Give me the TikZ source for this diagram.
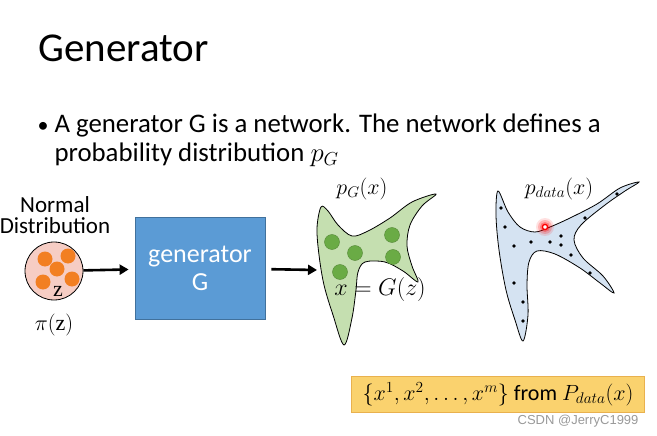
\RequirePackage{fix-cm}
\documentclass[tikz,border=0pt]{standalone}
\usepackage{fontspec}
\setmainfont{Carlito}
\newfontfamily\markfont{Liberation Sans}
\newfontfamily\zfont{Liberation Serif}
\usetikzlibrary{arrows.meta}
\definecolor{genblue}{HTML}{5B9BD5}
\definecolor{genedge}{HTML}{41719C}
\definecolor{pgfill}{HTML}{C5DFB0}
\definecolor{pgdot}{HTML}{6AAB45}
\definecolor{pdfill}{HTML}{D5E3F2}
\definecolor{zfill}{HTML}{F6CDC4}
\definecolor{zdot}{HTML}{F27F22}
\definecolor{boxfill}{HTML}{FAD26E}
\definecolor{boxedge}{HTML}{E9B14E}
\begin{document}
\begin{tikzpicture}[x=1pt,y=-1pt,
    flow/.style={line width=2.6pt,-{Triangle[length=9pt,width=10pt]}},
    zball/.style={circle,fill=zdot,inner sep=0pt,minimum size=15pt},
    gball/.style={circle,fill=pgdot,draw=pgdot!80!black,inner sep=0pt,minimum size=15pt},
    sample/.style={circle,fill=black,inner sep=0pt,minimum size=3.6pt},
    mathlab/.style={font=\fontsize{22}{22}\selectfont}]
    \useasboundingbox (0,0) rectangle (657,436);
    %% Heading and bullet
    \node[anchor=base west,font=\fontsize{41}{41}\selectfont] (title) at (35,62) {Generator};
    \node[anchor=base west,font=\fontsize{22}{28}\selectfont] (bul) at (34,132) {\textbullet};
    \node[anchor=base west,font=\fontsize{26.8}{28}\selectfont] (line1) at (51,133)
        {A generator G is a network. The network defines a};
    \node[anchor=base west,font=\fontsize{26.8}{28}\selectfont] (line2) at (51,161)
        {probability distribution $p_G$};
    %% Normal distribution
    \node[align=center,font=\fontsize{23}{21}\selectfont] (ndlab) at (55,215) {Normal\\Distribution};
    \node[circle,draw,thick,fill=zfill,minimum size=58pt] (nd) at (54,271) {};
    \node[zball] at (45,259) {};
    \node[zball] at (68,256) {};
    \node[zball] at (57,269) {};
    \node[zball] at (43,282) {};
    \node[zball] at (72,279) {};
    \node[font=\zfont\fontsize{22}{22}\selectfont] (zlab) at (58,291) {z};
    \node[mathlab] (pilab) at (54,325) {$\pi(\hbox{\zfont z})$};
    %% Generator box
    \node[draw=genedge,fill=genblue,thick,minimum width=130pt,minimum height=102pt,
        text=white,align=center,font=\fontsize{26}{28}\selectfont] (gen) at (200,268) {generator\\G};
    \draw[flow,shorten >=6pt] (nd) -- (gen);
    %% p_G(x)
    \coordinate (pgin) at (317,270);
    \draw[flow,shorten <=6pt] (gen) -- (pgin);
    \draw[fill=pgfill,thick] plot[smooth cycle,tension=0.55] coordinates {
        (321,207) (317,228) (319,255) (324,285) (333,315) (344,345)
        (352,318) (356,290) (358,272) (365,262) (385,262) (403,271) (418,282)
        (412,266) (407,246) (410,225) (422,206) (436,194)
        (412,202) (390,218) (368,231) (352,236) (338,225) (328,211)};
    \node[gball] at (332,242) {};
    \node[gball] at (355,253) {};
    \node[gball] at (340,272) {};
    \node[gball] at (392,235) {};
    \node[gball] at (393,257) {};
    \node[mathlab] (pglab) at (362,189) {$p_G(x)$};
    \node[font=\fontsize{24}{24}\selectfont] (xgz) at (380,289) {$x=G(z)$};
    %% p_data(x)
    \draw[fill=pdfill,thick] plot[smooth cycle,tension=0.55] coordinates {
        (498,191) (496,215) (499,250) (506,290) (515,320) (523,341)
        (528,315) (527,285) (529,262) (537,251) (555,254) (580,268) (600,283) (614,293)
        (603,276) (583,258) (574,240) (581,225) (605,205) (625,191) (639,182)
        (620,188) (597,204) (570,218) (550,227) (535,232) (520,227) (508,212)};
    \foreach \px/\py in {501/208,505/227,514/246,531/242,550/242,561/236,561/245,
        571/255,585/218,617/194,590/273,514/283,523/302,523/321}
        \node[sample] at (\px,\py) {};
    \foreach \r/\o in {9/0.12,7/0.2,5/0.3}
        \fill[red,opacity=\o] (545,227) circle (\r);
    \draw[red,fill=white,line width=1.3pt] (545,227) circle (2.6);
    \node[mathlab] (pdlab) at (559,189) {$p_{data}(x)$};
    %% Samples box
    \node[draw=boxedge,fill=boxfill,minimum width=293pt,minimum height=36pt,
        font=\fontsize{22}{22}\selectfont] (samples) at (498,394)
        {$\{x^1,x^2,\ldots,x^m\}$ from $P_{data}(x)$};
    \node[anchor=base east,text=black!40,font=\markfont\fontsize{13}{13}\selectfont] (mark) at (642,424)
        {CSDN @JerryC1999};
\end{tikzpicture}
\end{document}
